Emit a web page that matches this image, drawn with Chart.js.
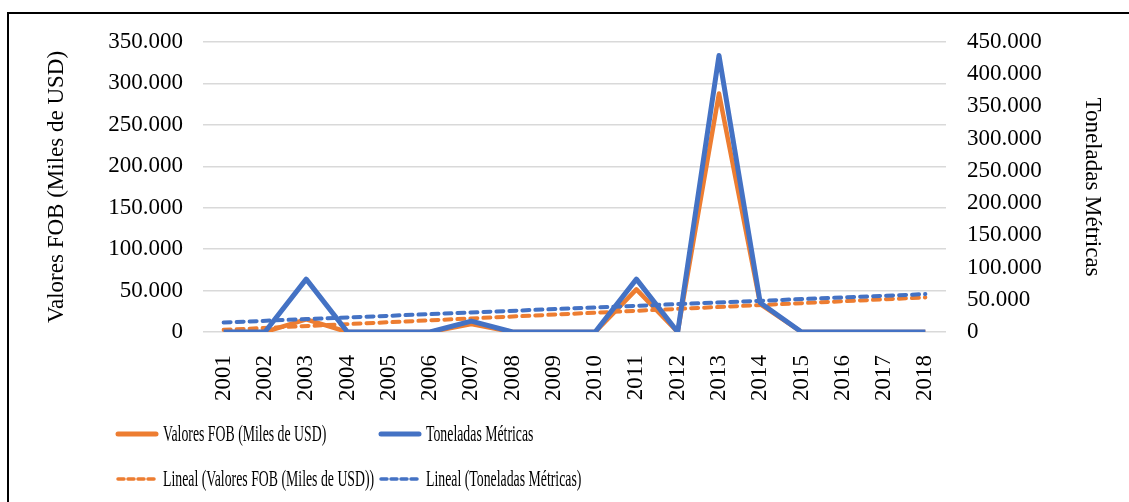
<!DOCTYPE html>
<html lang="es">

<head>
    <meta charset="UTF-8">
    <title>Valores FOB y Toneladas Métricas</title>
    <script src="https://cdn.jsdelivr.net/npm/chart.js"></script>
    <style>
        body {
            margin: 0;
            width: 1129px;
            height: 502px;
            overflow: hidden;
            background: #fff;
            font-family: 'Liberation Serif', serif;
        }

        .frame {
            position: absolute;
            left: 7px;
            top: 12px;
            width: 1200px;
            height: 600px;
            border: 2px solid #000;
        }

        .chart-box {
            position: absolute;
            left: 0;
            top: 0;
            width: 1129px;
            height: 502px;
        }

        #legend {
            position: absolute;
            left: 115px;
            top: 411px;
            display: grid;
            grid-template-columns: 263px 263px;
            grid-auto-rows: 45px;
        }

        .item {
            display: flex;
            align-items: center;
            height: 45px;
            overflow: visible;
        }

        .item svg {
            flex: none;
        }

        .item span {
            flex: none;
            font-size: 23px;
            display: inline-block;
            transform: scaleX(0.6);
            transform-origin: left center;
            white-space: nowrap;
            margin-left: 4px;
            color: #000;
        }
    </style>
</head>

<body>
    <div class="frame"></div>
    <div class="chart-box">
        <canvas id="myChart"></canvas>
    </div>
    <div id="legend"></div>

    <script>
        // categories
        const years = ['2001', '2002', '2003', '2004', '2005', '2006', '2007', '2008', '2009',
            '2010', '2011', '2012', '2013', '2014', '2015', '2016', '2017', '2018'];

        // series values
        const fobValues = [0, 0, 15300, 0, 0, 0, 9600, 0, 0, 0, 51500, 0, 287800, 33700, 0, 0, 0, 0];
        const tonValues = [0, 0, 82000, 0, 0, 0, 17000, 0, 0, 0, 82000, 0, 429000, 45500, 0, 0, 0, 0];

        // linear trend lines: only the two end values, drawn straight across
        const fobTrend = [2600, null, null, null, null, null, null, null, null,
            null, null, null, null, null, null, null, null, 41700];
        const tonTrend = [14800, null, null, null, null, null, null, null, null,
            null, null, null, null, null, null, null, null, 58800];

        // axis ranges
        const fobAxis = { min: 0, max: 350000, step: 50000 };
        const tonAxis = { min: 0, max: 450000, step: 50000 };

        const orange = '#ED7D31';
        const blue = '#4472C4';
        const font = 'Liberation Serif';

        const fmt = v => String(v).replace(/\B(?=(\d{3})+(?!\d))/g, '.');

        const datasets = [
            {
                label: 'Valores FOB (Miles de USD)',
                data: fobValues,
                yAxisID: 'y',
                borderColor: orange,
                borderWidth: 4.5,
                order: 3
            },
            {
                label: 'Toneladas Métricas',
                data: tonValues,
                yAxisID: 'y1',
                borderColor: blue,
                borderWidth: 5,
                order: 1
            },
            {
                label: 'Lineal (Valores FOB (Miles de USD))',
                data: fobTrend,
                yAxisID: 'y',
                borderColor: orange,
                borderWidth: 4,
                borderDash: [7, 6],
                borderCapStyle: 'round',
                spanGaps: true,
                order: 2
            },
            {
                label: 'Lineal (Toneladas Métricas)',
                data: tonTrend,
                yAxisID: 'y1',
                borderColor: blue,
                borderWidth: 4,
                borderDash: [7, 6],
                borderCapStyle: 'round',
                spanGaps: true,
                order: 0
            }
        ];
        datasets.forEach(d => {
            d.pointRadius = 0;
            d.tension = 0;
            d.borderJoinStyle = 'round';
            d.fill = false;
        });

        const tickFont = { family: font, size: 23 };

        new Chart(document.getElementById('myChart'), {
            type: 'line',
            data: { labels: years, datasets: datasets },
            options: {
                responsive: true,
                maintainAspectRatio: false,
                animation: false,
                layout: { padding: { top: 42, left: 0, right: 0, bottom: 0 } },
                plugins: {
                    legend: { display: false },
                    tooltip: { enabled: false }
                },
                scales: {
                    x: {
                        offset: true,
                        grid: { display: false },
                        border: { display: false },
                        ticks: {
                            color: '#000',
                            font: tickFont,
                            minRotation: 90,
                            maxRotation: 90,
                            autoSkip: false,
                            padding: 15
                        },
                        afterFit: s => { s.height = 170; }
                    },
                    y: {
                        position: 'left',
                        min: fobAxis.min,
                        max: fobAxis.max,
                        grid: { color: '#d9d9d9', lineWidth: 1.5, drawTicks: false },
                        border: { display: false },
                        ticks: {
                            stepSize: fobAxis.step,
                            color: '#000',
                            font: tickFont,
                            padding: 20,
                            autoSkip: false,
                            callback: v => fmt(v)
                        },
                        title: {
                            display: true,
                            text: 'Valores FOB (Miles de USD)',
                            color: '#000',
                            font: { family: font, size: 23 },
                            padding: { top: 43, bottom: 0 }
                        },
                        afterFit: s => { s.width = 203; }
                    },
                    y1: {
                        position: 'right',
                        min: tonAxis.min,
                        max: tonAxis.max,
                        grid: { display: false, drawTicks: false },
                        border: { display: false },
                        ticks: {
                            stepSize: tonAxis.step,
                            color: '#000',
                            font: tickFont,
                            padding: 21,
                            autoSkip: false,
                            callback: v => fmt(v)
                        },
                        title: {
                            display: true,
                            text: 'Toneladas Métricas',
                            color: '#000',
                            font: { family: font, size: 23 },
                            padding: { top: 23, bottom: 0 }
                        },
                        afterFit: s => { s.width = 183; }
                    }
                }
            }
        });

        // legend as two rows of two, like the original
        const legend = document.getElementById('legend');
        datasets.forEach(d => {
            const dash = d.borderDash ? 'stroke-dasharray="6 4"' : '';
            const w = d.borderDash ? 3.5 : 5;
            const item = document.createElement('div');
            item.className = 'item';
            item.innerHTML =
                '<svg width="44" height="10"><line x1="3" y1="5" x2="41" y2="5" stroke="' + d.borderColor +
                '" stroke-width="' + w + '" stroke-linecap="round" ' + dash + '/></svg>' +
                '<span>' + d.label + '</span>';
            legend.appendChild(item);
        });
    </script>
</body>

</html>
